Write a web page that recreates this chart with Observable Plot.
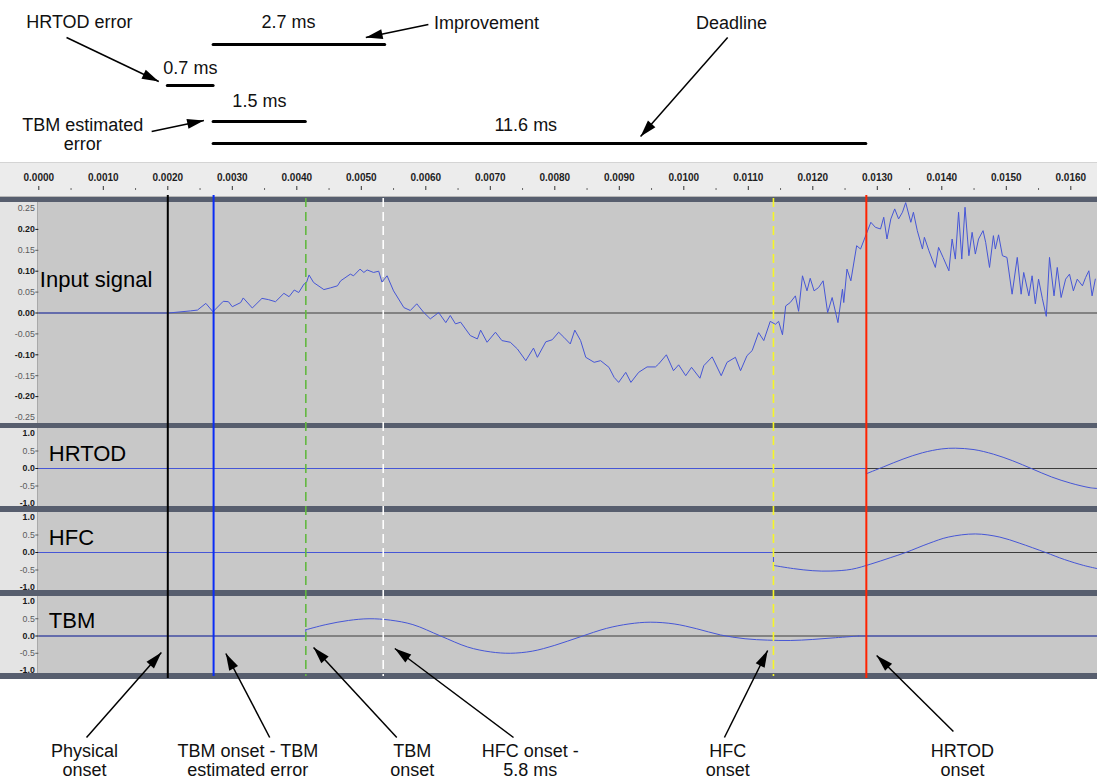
<!DOCTYPE html>
<html><head><meta charset="utf-8">
<script src="https://cdn.jsdelivr.net/npm/d3@7"></script>
<script src="https://cdn.jsdelivr.net/npm/@observablehq/plot@0.6"></script>
<style>
html,body{margin:0;padding:0;background:#fff;overflow:hidden}
#root{position:relative;width:1097px;height:782px;overflow:hidden}
.abs{position:absolute;left:0}
</style></head><body><div id="root"></div>
<script>
// ---------------- DATA (time in ms) ----------------
const rulerMajor = [0,1,2,3,4,5,6,7,8,9,10,11,12,13,14,15,16];
const rulerMinor = [0.5,1.5,2.5,3.5,4.5,5.5,6.5,7.5,8.5,9.5,10.5,11.5,12.5,13.5,14.5,15.5];

const onsetNames = ["Physical onset","TBM onset - TBM estimated error","TBM onset","HFC onset - 5.8 ms","HFC onset","HRTOD onset"];
const onsetTimes = [2.00, 2.71, 4.14, 5.34, 11.39, 12.83];

const inputTicksBold = [0.20, 0.10, 0.00, -0.10, -0.20];
const inputTicksNormal = [0.15, 0.05, -0.05, -0.15];
const inputTicksEdge = [0.25, -0.25];
const trackTicksBold = [0.0];
const trackTicksNormal = [0.5, -0.5];
const trackTicksEdge = [1.0, -1.0];

// input signal [t, amplitude]
const inputSignal = [
[0,0],[1.60,0],[2.01,0],[2.35,0.005],[2.46,0.007],[2.59,0.023],[2.70,0.003],[2.86,0.028],[2.94,0.027],[3.00,0.015],
[3.13,0.025],[3.17,0.036],[3.31,0.012],[3.46,0.035],[3.56,0.032],[3.67,0.027],[3.80,0.047],[3.88,0.039],[3.96,0.055],[4.03,0.049],
[4.11,0.069],[4.15,0.073],[4.19,0.091],[4.26,0.073],[4.42,0.056],[4.52,0.060],[4.63,0.065],[4.68,0.077],[4.83,0.093],[4.88,0.089],
[4.98,0.105],[5.04,0.097],[5.09,0.103],[5.19,0.097],[5.27,0.100],[5.32,0.074],[5.40,0.089],[5.50,0.053],[5.66,0.013],[5.76,0.006],
[5.86,0.022],[5.97,0.001],[6.07,-0.014],[6.20,0.001],[6.31,-0.023],[6.38,-0.006],[6.46,-0.026],[6.54,-0.022],[6.69,-0.054],[6.80,-0.062],
[6.85,-0.041],[6.95,-0.070],[7.08,-0.046],[7.18,-0.066],[7.31,-0.070],[7.42,-0.086],[7.55,-0.114],[7.67,-0.084],[7.73,-0.106],[7.86,-0.069],
[7.96,-0.064],[8.06,-0.046],[8.14,-0.058],[8.24,-0.074],[8.31,-0.041],[8.40,-0.066],[8.48,-0.106],[8.61,-0.118],[8.71,-0.114],[8.84,-0.130],
[8.92,-0.154],[8.99,-0.166],[9.10,-0.142],[9.18,-0.166],[9.30,-0.142],[9.43,-0.129],[9.56,-0.129],[9.61,-0.122],[9.73,-0.100],[9.84,-0.138],
[9.92,-0.124],[10.03,-0.150],[10.12,-0.130],[10.25,-0.156],[10.31,-0.126],[10.44,-0.105],[10.58,-0.150],[10.67,-0.118],[10.80,-0.106],[10.88,-0.138],
[10.98,-0.102],[11.06,-0.090],[11.16,-0.047],[11.24,-0.066],[11.34,-0.020],[11.42,-0.027],[11.47,-0.020],[11.53,-0.052],[11.58,0.017],[11.65,0.025],
[11.73,0.041],[11.78,0.004],[11.84,0.089],[11.91,0.053],[11.96,0.083],[12.02,0.053],[12.09,0.061],[12.16,0.077],[12.23,0.001],[12.30,0.037],
[12.39,-0.023],[12.46,0.057],[12.48,0.025],[12.53,0.105],[12.59,0.077],[12.68,0.161],[12.74,0.153],[12.83,0.189],[12.90,0.217],[12.97,0.205],
[13.05,0.201],[13.10,0.229],[13.15,0.177],[13.21,0.225],[13.27,0.249],[13.33,0.225],[13.39,0.241],[13.44,0.264],[13.52,0.217],[13.56,0.241],
[13.62,0.197],[13.70,0.153],[13.73,0.181],[13.80,0.149],[13.90,0.109],[13.95,0.157],[14.02,0.133],[14.11,0.101],[14.16,0.177],[14.21,0.129],
[14.26,0.241],[14.31,0.129],[14.36,0.253],[14.42,0.137],[14.47,0.193],[14.52,0.141],[14.57,0.177],[14.64,0.197],[14.68,0.169],[14.74,0.109],
[14.80,0.185],[14.83,0.153],[14.88,0.187],[14.94,0.137],[15.01,0.133],[15.09,0.045],[15.17,0.133],[15.23,0.045],[15.27,0.097],[15.35,0.041],
[15.40,0.089],[15.45,0.022],[15.50,0.081],[15.56,0.034],[15.62,-0.008],[15.67,0.133],[15.74,0.041],[15.79,0.109],[15.85,0.037],[15.92,0.081],
[15.98,0.093],[16.04,0.053],[16.10,0.081],[16.18,0.065],[16.23,0.085],[16.28,0.101],[16.33,0.041],[16.38,0.081]
];

// detector outputs [t, value]
const hrtodSignal = [[12.83,-0.15],[13.10,0.05],[13.40,0.27],[13.70,0.45],[14.00,0.56],[14.21,0.58],[14.50,0.54],[14.80,0.41],[15.10,0.22],[15.40,-0.01],[15.70,-0.24],[16.00,-0.42],[16.30,-0.55],[16.41,-0.57]];
const hfcSignal = [[11.39,-0.37],[11.70,-0.46],[12.00,-0.52],[12.28,-0.53],[12.60,-0.48],[12.90,-0.33],[13.20,-0.15],[13.44,0.0],[13.80,0.26],[14.10,0.44],[14.52,0.53],[14.90,0.44],[15.20,0.27],[15.61,0.0],[15.90,-0.20],[16.20,-0.37],[16.41,-0.46]];
const tbmSignal = [[4.14,0.18],[4.45,0.33],[4.80,0.45],[5.12,0.50],[5.45,0.46],[5.80,0.33],[6.23,0.00],[6.65,-0.32],[7.00,-0.46],[7.31,-0.50],[7.65,-0.44],[8.00,-0.27],[8.40,-0.02],[8.80,0.22],[9.15,0.35],[9.48,0.40],[9.85,0.35],[10.20,0.21],[10.57,0.03],[10.95,-0.08],[11.30,-0.12],[11.65,-0.13],[12.00,-0.10],[12.35,-0.05],[12.71,0.00]];

// interval bars: [start ms, end ms, label]
const intervalBars = [
  {x1: 2.71, x2: 5.37, label: "2.7 ms"},
  {x1: 2.00, x2: 2.71, label: "0.7 ms"},
  {x1: 2.71, x2: 4.14, label: "1.5 ms"},
  {x1: 2.71, x2: 12.83, label: "11.6 ms"}
];

// ---------------- LAYOUT / STYLE ----------------
const W = 1097, LEFT = 38.3, XD = [0, 16.414];
const FONT = '"Liberation Sans", Arial, Helvetica, sans-serif';
const BLUE = "#4656d6";
const onsetStyle = [
  {stroke: "#000000", width: 2, dash: null, y1: 195, y2: 678},
  {stroke: "#0a2cf5", width: 2, dash: null, y1: 195, y2: 676},
  {stroke: "#62b840", width: 1.6, dash: "9,5", y1: 198, y2: 676},
  {stroke: "#ffffff", width: 1.6, dash: "9,5", y1: 198, y2: 676},
  {stroke: "#f6f627", width: 1.6, dash: "9,5", y1: 198, y2: 676},
  {stroke: "#ff2200", width: 2, dash: null, y1: 195, y2: 678}
];
const barRows = [44, 85, 121, 143];
const barLabelPos = [{x: 3.87, y: 22}, {x: 2.35, y: 68}, {x: 3.42, y: 101}, {x: 7.55, y: 125}];
const topTexts = [
  {x: 0.63, y: 21, text: "HRTOD error"},
  {x: 6.94, y: 22, text: "Improvement"},
  {x: 10.74, y: 22, text: "Deadline"},
  {x: 0.68, y: 133.5, text: "TBM estimated\nerror"}
];
const bottomTextX = [0.71, 3.24, 5.79, 7.62, 10.68, 14.32];
const bottomTexts = ["Physical\nonset","TBM onset - TBM\nestimated error","TBM\nonset","HFC onset -\n5.8 ms","HFC\nonset","HRTOD\nonset"];
const arrows = [
  {x1: 0.43, y1: 37, x2: 1.86, y2: 81},
  {x1: 6.04, y1: 24, x2: 5.07, y2: 37},
  {x1: 10.68, y1: 37, x2: 9.33, y2: 136},
  {x1: 1.75, y1: 131, x2: 2.56, y2: 120},
  {x1: 0.74, y1: 737, x2: 1.90, y2: 652},
  {x1: 3.58, y1: 737, x2: 2.90, y2: 653},
  {x1: 5.55, y1: 737, x2: 4.26, y2: 647},
  {x1: 7.36, y1: 737, x2: 5.52, y2: 648},
  {x1: 10.63, y1: 737, x2: 11.30, y2: 650},
  {x1: 14.18, y1: 731, x2: 12.99, y2: 655}
];

const root = document.getElementById("root");
function place(el, top, height, bg) {
  const d = document.createElement("div");
  d.className = "abs";
  d.style.top = top + "px"; d.style.height = height + "px"; d.style.width = W + "px";
  if (bg) d.style.background = bg;
  if (el) d.appendChild(el);
  root.appendChild(d);
  return d;
}

// backgrounds
place(null, 162, 1, "#d4d4d4");
place(null, 163, 33, "#ececec");
place(null, 196, 1, "#b8b8b8");
place(null, 197, 482, "#575e6e");

// ruler
const ruler = Plot.plot({
  width: W, height: 33, marginLeft: LEFT, marginRight: 0, marginTop: 0, marginBottom: 6,
  x: {domain: XD, axis: null},
  style: {background: "transparent", overflow: "visible", fontFamily: FONT},
  marks: [
    Plot.tickX(rulerMinor, {x: d => d, insetTop: 25, stroke: "#666"}),
    Plot.tickX(rulerMajor, {x: d => d, insetTop: 23, stroke: "#333"}),
    Plot.text(rulerMajor, {x: d => d, text: d => (d / 1000).toFixed(4), frameAnchor: "top", dy: 14, lineAnchor: "middle", fontSize: 10, fontWeight: "bold", fill: "#1e1e1e"})
  ]
});
place(ruler, 163, 33);

const panelBg = `linear-gradient(to right, #e4e4e4 0px, #e4e4e4 37px, #a9a9a9 37px, #a9a9a9 38px, #c8c8c8 38px)`;

function panel({top, height, mt, mb, yDomain, bold, normal, edge, fmt, label, dx, dy, marks}) {
  const common = {anchor: "left", fontSize: 8.8, tickFormat: fmt};
  const p = Plot.plot({
    width: W, height, marginLeft: LEFT, marginRight: 0, marginTop: mt, marginBottom: mb,
    x: {domain: XD, axis: null},
    y: {domain: yDomain, axis: null},
    style: {background: "transparent", overflow: "visible", fontFamily: FONT},
    marks: [
      Plot.axisY(normal, {...common, tickSize: 3, tickPadding: 1, fill: "#5a5a5a", stroke: "#5a5a5a"}),
      Plot.axisY(bold, {...common, tickSize: 3, tickPadding: 1, fontWeight: "bold", fill: "#1a1a1a", stroke: "#1a1a1a"}),
      Plot.axisY(edge, {...common, tickSize: 0, tickPadding: 4, fontWeight: edge[0] === 1 ? "bold" : "normal", fill: edge[0] === 1 ? "#1a1a1a" : "#5a5a5a"}),
      Plot.ruleY([0], {stroke: "#3c3c3c", strokeWidth: 1}),
      ...marks,
      Plot.text([label], {frameAnchor: "top-left", dx, dy, text: d => d, fontSize: 22, textAnchor: "start", lineAnchor: "middle", fill: "#000"})
    ]
  });
  place(p, top, height, panelBg);
}

const fmt2 = d => d.toFixed(2);
const fmt1 = d => d.toFixed(1);

panel({top: 202, height: 221, mt: 6, mb: 6, yDomain: [-0.25, 0.25],
  bold: inputTicksBold, normal: inputTicksNormal, edge: inputTicksEdge, fmt: fmt2,
  label: "Input signal", dx: 1, dy: 71,
  marks: [Plot.line(inputSignal, {x: d => d[0], y: d => d[1], stroke: BLUE, strokeWidth: 1})]
});

function trackMarks(sig) {
  const t0 = sig[0][0], v0 = sig[0][1], tEnd = sig[sig.length - 1][0];
  const flat = [[0, 0], [t0, 0], [t0, v0]];
  const out = [
    Plot.line(flat, {x: d => d[0], y: d => d[1], stroke: BLUE, strokeWidth: 1}),
    Plot.line(sig, {x: d => d[0], y: d => d[1], stroke: BLUE, strokeWidth: 1, curve: "catmull-rom"})
  ];
  if (tEnd < XD[1] - 0.05) out.push(Plot.line([[tEnd, 0], [XD[1], 0]], {x: d => d[0], y: d => d[1], stroke: BLUE, strokeWidth: 1}));
  return out;
}

panel({top: 428, height: 78, mt: 5, mb: 3, yDomain: [-1, 1],
  bold: trackTicksBold, normal: trackTicksNormal, edge: trackTicksEdge, fmt: fmt1,
  label: "HRTOD", dx: 10, dy: 20, marks: trackMarks(hrtodSignal)});
panel({top: 512, height: 78, mt: 5, mb: 3, yDomain: [-1, 1],
  bold: trackTicksBold, normal: trackTicksNormal, edge: trackTicksEdge, fmt: fmt1,
  label: "HFC", dx: 10, dy: 20, marks: trackMarks(hfcSignal)});
panel({top: 596, height: 77, mt: 5, mb: 3, yDomain: [-1, 1],
  bold: trackTicksBold, normal: trackTicksNormal, edge: trackTicksEdge, fmt: fmt1,
  label: "TBM", dx: 10, dy: 19, marks: trackMarks(tbmSignal)});

// ---------------- overlay: onsets & annotations ----------------
const xs = Plot.scale({x: {domain: XD, range: [LEFT, W]}});
const headSymbol = {draw(ctx, size) {
  const r = Math.sqrt(size / Math.PI);
  ctx.moveTo(0, 0); ctx.lineTo(-0.62 * r, 2.1 * r); ctx.lineTo(0.62 * r, 2.1 * r); ctx.closePath();
}};
const angle = a => Math.atan2(xs.apply(a.x2) - xs.apply(a.x1), -(a.y2 - a.y1)) * 180 / Math.PI;

const onsetMarks = onsetTimes.map((t, i) => Plot.ruleX([t], {
  x: d => d, y1: onsetStyle[i].y1, y2: onsetStyle[i].y2,
  stroke: onsetStyle[i].stroke, strokeWidth: onsetStyle[i].width,
  strokeDasharray: onsetStyle[i].dash || undefined
}));

const overlay = Plot.plot({
  width: W, height: 782, marginLeft: LEFT, marginRight: 0, marginTop: 0, marginBottom: 0,
  x: {domain: XD, axis: null},
  y: {domain: [0, 782], range: [0, 782], axis: null},
  style: {background: "transparent", overflow: "visible", fontFamily: FONT},
  marks: [
    ...onsetMarks,
    Plot.ruleY(intervalBars, {x1: "x1", x2: "x2", y: (d, i) => barRows[i], stroke: "#000", strokeWidth: 3, strokeLinecap: "round"}),
    Plot.text(intervalBars, {x: (d, i) => barLabelPos[i].x, y: (d, i) => barLabelPos[i].y, text: "label", fontSize: 18, lineAnchor: "middle", fill: "#111"}),
    Plot.text(topTexts, {x: "x", y: "y", text: "text", fontSize: 18, lineAnchor: "middle", lineHeight: 1.08, fill: "#111"}),
    Plot.text(bottomTexts, {x: (d, i) => bottomTextX[i], y: 760, text: d => d, fontSize: 18, lineAnchor: "middle", lineHeight: 1.08, fill: "#111"}),
    Plot.link(arrows, {x1: "x1", y1: "y1", x2: "x2", y2: "y2", stroke: "#000", strokeWidth: 1.5}),
    Plot.dot(arrows, {x: "x2", y: "y2", symbol: headSymbol, r: 8, rotate: angle, fill: "#000", stroke: "none"})
  ]
});
const ov = place(overlay, 0, 782);
ov.style.pointerEvents = "none";
</script></body></html>
